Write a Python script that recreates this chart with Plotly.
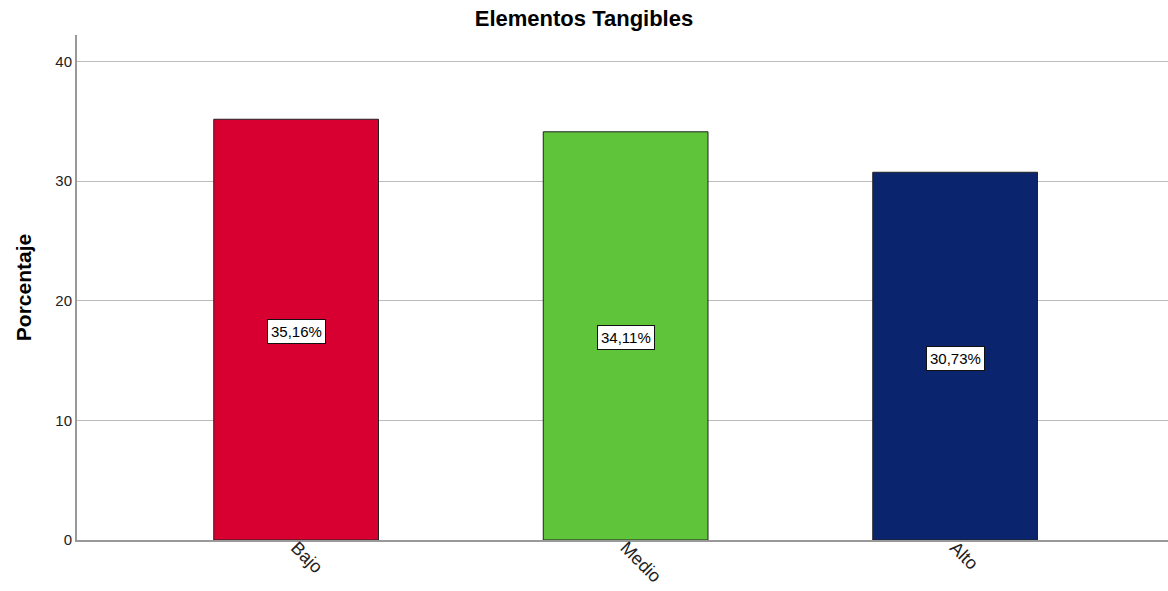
import plotly.graph_objects as go

categories = ["Bajo", "Medio", "Alto"]
values = [35.16, 34.11, 30.73]
labels = ["35,16%", "34,11%", "30,73%"]
colors = ["#D70030", "#5FC43A", "#0A256E"]

fig = go.Figure()
fig.add_trace(go.Bar(
    x=categories, y=values, width=0.5,
    marker=dict(color=colors, line=dict(color="#222222", width=1)),
    hoverinfo="skip",
))

for c, v, t in zip(categories, values, labels):
    fig.add_annotation(
        x=c, y=v / 2, text=t, showarrow=False, yshift=-2,
        font=dict(family="Liberation Sans, Arial", size=15, color="black"),
        bgcolor="white", bordercolor="#111111", borderwidth=1, borderpad=3,
    )

fig.update_layout(
    width=1168, height=591,
    margin=dict(l=77, r=0, t=35, b=51, autoexpand=False),
    paper_bgcolor="white", plot_bgcolor="white",
    showlegend=False,
    title=dict(text="<b>Elementos Tangibles</b>", x=0.5, xanchor="center",
               y=1 - 18 / 591, yanchor="middle",
               font=dict(family="Liberation Sans, Arial", size=22, color="black")),
    font=dict(family="Liberation Sans, Arial", color="black"),
)
fig.update_xaxes(
    range=[-0.665, 2.646], showgrid=False, automargin=False,
    showline=True, linecolor="#999999", linewidth=2,
    tickangle=45, tickfont=dict(size=18, color="#222222"), ticks="",
    ticklabelstandoff=-12,
)
fig.update_yaxes(
    range=[0, 42.2], tickvals=[0, 10, 20, 30, 40], automargin=False,
    showgrid=True, gridcolor="#BBBBBB", gridwidth=1,
    showline=True, linecolor="#999999", linewidth=2, zeroline=False,
    tickfont=dict(size=15, color="#222222"), ticks="",
    title=dict(text="<b>Porcentaje</b>", font=dict(size=21, color="black"), standoff=18),
)

fig.write_html("out.html")
